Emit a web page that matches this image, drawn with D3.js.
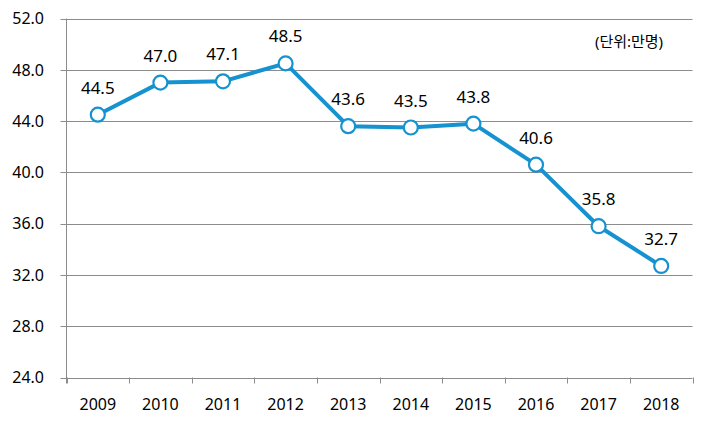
<!DOCTYPE html>
<html><head><meta charset="utf-8">
<script src="https://cdn.jsdelivr.net/npm/d3@7"></script>
<style>body{margin:0;background:#fff}svg{display:block}text{font-family:"Noto Sans","Noto Sans CJK KR",sans-serif}</style>
</head><body><svg id="c" width="709" height="422"></svg>
<script>
const years = ["2009","2010","2011","2012","2013","2014","2015","2016","2017","2018"];
const values = [44.5,47.0,47.1,48.5,43.6,43.5,43.8,40.6,35.8,32.7];
const yTicks = [24,28,32,36,40,44,48,52];
const unitLabel = "(단위:만명)";

const svg = d3.select("#c");
const L = 66.5, R = 692.5, T = 18.5, B = 377.5;
const x = d3.scaleBand().domain(years).range([L, R]);
const y = d3.scaleLinear().domain([24, 52]).range([B, T]);
const grid = "#8c8c8c";

svg.append("g").selectAll("line").data(yTicks).join("line")
  .attr("x1", L - 6).attr("x2", R)
  .attr("y1", d => Math.round(y(d)) + 0.5).attr("y2", d => Math.round(y(d)) + 0.5)
  .attr("stroke", grid).attr("stroke-width", 1);
svg.append("line").attr("x1", L).attr("x2", L).attr("y1", y(52)).attr("y2", B + 6)
  .attr("stroke", grid);
const bounds = years.map(d => x(d)).concat([R]);
svg.append("g").selectAll("line").data(bounds).join("line")
  .attr("x1", d => Math.round(d) + 0.5).attr("x2", d => Math.round(d) + 0.5)
  .attr("y1", B).attr("y2", B + 6).attr("stroke", grid);

svg.append("g").selectAll("text").data(yTicks).join("text")
  .attr("x", 44).attr("y", d => y(d)).attr("dy", "0.36em")
  .attr("text-anchor", "end").attr("font-size", 16).attr("fill", "#000")
  .text(d => d.toFixed(1));
svg.append("g").selectAll("text").data(years).join("text")
  .attr("x", d => x(d) + x.bandwidth() / 2).attr("y", 404).attr("dy", "0.36em")
  .attr("text-anchor", "middle").attr("font-size", 16).attr("fill", "#000")
  .text(d => d);

const cx = (d, i) => x(years[i]) + x.bandwidth() / 2;
const line = d3.line().x((d, i) => cx(d, i)).y(d => y(d));
svg.append("path").datum(values).attr("d", line)
  .attr("fill", "none").attr("stroke", "#1592cf").attr("stroke-width", 4)
  .attr("stroke-linejoin", "round");
svg.append("g").selectAll("circle").data(values).join("circle")
  .attr("cx", cx).attr("cy", d => y(d)).attr("r", 7)
  .attr("fill", "#fff").attr("stroke", "#1592cf").attr("stroke-width", 2.2);
svg.append("g").selectAll("text").data(values).join("text")
  .attr("x", cx).attr("y", d => y(d) - 27).attr("dy", "0.36em")
  .attr("text-anchor", "middle").attr("font-size", 17).attr("fill", "#000")
  .text(d => d.toFixed(1));

svg.append("text").attr("x", 629).attr("y", 42).attr("dy", "0.36em")
  .attr("text-anchor", "middle").attr("font-size", 15).attr("fill", "#000")
  .text(unitLabel);
</script></body></html>
